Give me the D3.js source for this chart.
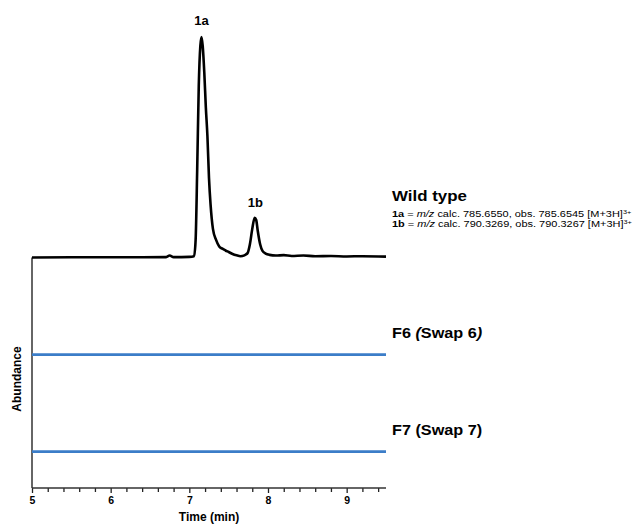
<!DOCTYPE html>
<html>
<head>
<meta charset="utf-8">
<title>Chromatogram</title>
<script src="https://cdn.jsdelivr.net/npm/d3@7"></script>
<style>
  body { margin: 0; background: #fff; }
  svg text { font-family: "Liberation Sans", Arial, Helvetica, sans-serif; fill: #000; }
  .bold { font-weight: bold; }
</style>
</head>
<body>
<script>
// retention time (min) / relative abundance for the wild type trace
var wtTime  = [5.0, 5.5, 6.0, 6.4, 6.7, 6.75, 6.8, 7.0, 7.06, 7.08, 7.10, 7.12, 7.14, 7.155, 7.17, 7.19, 7.21, 7.23,
               7.25, 7.27, 7.30, 7.34, 7.38, 7.42, 7.46, 7.50, 7.55, 7.60, 7.65, 7.70, 7.74, 7.77, 7.80, 7.83,
               7.85, 7.87, 7.90, 7.93, 7.97, 8.02, 8.1, 8.2, 8.3, 8.45, 8.6, 8.8, 9.0, 9.2, 9.5];
var wtAbund = [0.0, 0.1, 0.1, 0.1, 0.2, 0.9, 0.2, 0.3, 0.6, 8, 40, 78, 96, 100, 96, 84, 68, 55,
               36, 24, 13, 8, 5, 4, 3.2, 2.5, 1.6, 1.0, 0.6, 1.0, 2.0, 6, 13, 18,
               17, 12, 6, 3, 1.8, 1.2, 0.9, 1.1, 0.7, 0.9, 0.6, 0.7, 0.5, 0.6, 0.4];
// the two swap mutants show nothing
var swapTime  = [5.0, 9.5];
var f6Abund   = [0, 0];
var f7Abund   = [0, 0];
// vertical stacking of the three traces (abundance units)
var traceOffsets = [0, -44, -88];

var peakNames = ["1a", "1b"];
var peakTimes = [7.155, 7.84];
var peakTops  = [100, 17.6];

var xTicks = [5, 6, 7, 8, 9];

var width = 641, height = 525;
var x = d3.scaleLinear().domain([5, 9.5]).range([32, 386]);
var y = d3.scaleLinear().domain([-104.5, 100]).range([488, 37]);

var svg = d3.select("body").append("svg")
    .attr("width", width)
    .attr("height", height);

var line = d3.line()
    .x(function(d) { return x(d[0]); })
    .y(function(d) { return y(d[1]); })
    .curve(d3.curveMonotoneX);

function trace(times, vals, off) {
  return times.map(function(t, i) { return [t, vals[i] + off]; });
}

// axes
var xAxis = d3.axisBottom(x)
    .tickValues(d3.range(5, 9.5001, 0.2).filter(function(v) { return Math.abs(v - Math.round(v)) > 0.01; }))
    .tickSize(4)
    .tickFormat("");
svg.append("g").attr("transform", "translate(0,488)").call(xAxis)
    .call(function(g) { g.select(".domain").remove(); g.selectAll("line").attr("stroke", "#222").attr("stroke-width", 1.3); });

var xMajor = d3.axisBottom(x).tickValues(xTicks).tickSize(5).tickPadding(4).tickFormat(d3.format("d"));
svg.append("g").attr("transform", "translate(0,488)").call(xMajor)
    .call(function(g) {
      g.select(".domain").remove();
      g.selectAll("line").attr("stroke", "#222").attr("stroke-width", 1.3);
      g.selectAll("text").attr("class", "bold").style("font-size", "10.5px").attr("fill", "#000");
    });

svg.append("line").attr("x1", x(5)).attr("x2", x(9.5)).attr("y1", 488).attr("y2", 488)
    .attr("stroke", "#333").attr("stroke-width", 1.5);
svg.append("line").attr("x1", x(5)).attr("x2", x(5)).attr("y1", y(0)).attr("y2", 488)
    .attr("stroke", "#333").attr("stroke-width", 1.5);

svg.append("text").attr("class", "bold")
    .attr("x", x(7.25)).attr("y", 521)
    .attr("text-anchor", "middle").style("font-size", "12px")
    .text("Time (min)");

svg.append("text").attr("class", "bold")
    .attr("transform", "translate(21,379) rotate(-90)")
    .attr("text-anchor", "middle").style("font-size", "12px")
    .text("Abundance");

// traces
svg.append("path").datum(trace(swapTime, f6Abund, traceOffsets[1]))
    .attr("d", line).attr("fill", "none").attr("stroke", "#3b7dc8").attr("stroke-width", 2.6);
svg.append("path").datum(trace(swapTime, f7Abund, traceOffsets[2]))
    .attr("d", line).attr("fill", "none").attr("stroke", "#3b7dc8").attr("stroke-width", 2.6);
svg.append("path").datum(trace(wtTime, wtAbund, traceOffsets[0]))
    .attr("d", line).attr("fill", "none").attr("stroke", "#000").attr("stroke-width", 2.6)
    .attr("stroke-linejoin", "round");

// peak labels
svg.selectAll(".peak").data(peakNames).enter().append("text")
    .attr("class", "bold")
    .attr("x", function(d, i) { return x(peakTimes[i]); })
    .attr("y", function(d, i) { return y(peakTops[i]) - 12; })
    .attr("text-anchor", "middle").style("font-size", "13px")
    .text(function(d) { return d; });

// trace labels (the original lettering is a little wider than Liberation Sans)
svg.append("text").attr("class", "bold")
    .attr("transform", "translate(392,201) scale(1.09,1)")
    .style("font-size", "15.5px").text("Wild type");

var info = [["1a", "785.6550", "785.6545"], ["1b", "790.3269", "790.3267"]];
info.forEach(function(r, i) {
  var t = svg.append("text")
      .attr("transform", "translate(392," + (217 + i * 10) + ") scale(1.18,1)")
      .style("font-size", "9.3px");
  t.append("tspan").attr("class", "bold").text(r[0]);
  t.append("tspan").text(" = ");
  t.append("tspan").style("font-style", "italic").text("m/z");
  t.append("tspan").text(" calc. " + r[1] + ", obs. " + r[2] + " [M+3H]");
  t.append("tspan").attr("dy", -3.5).style("font-size", "6.2px").text("3+");
});

svg.append("text").attr("class", "bold")
    .attr("transform", "translate(392,338) scale(1.12,1)")
    .style("font-size", "14.5px")
    .call(function(t) {
      t.append("tspan").text("F6 ");
      t.append("tspan").style("font-style", "italic").text("(");
      t.append("tspan").text("Swap 6");
      t.append("tspan").style("font-style", "italic").text(")");
    });
svg.append("text").attr("class", "bold")
    .attr("transform", "translate(392,435) scale(1.12,1)")
    .style("font-size", "14.5px").text("F7 (Swap 7)");
</script>
</body>
</html>
